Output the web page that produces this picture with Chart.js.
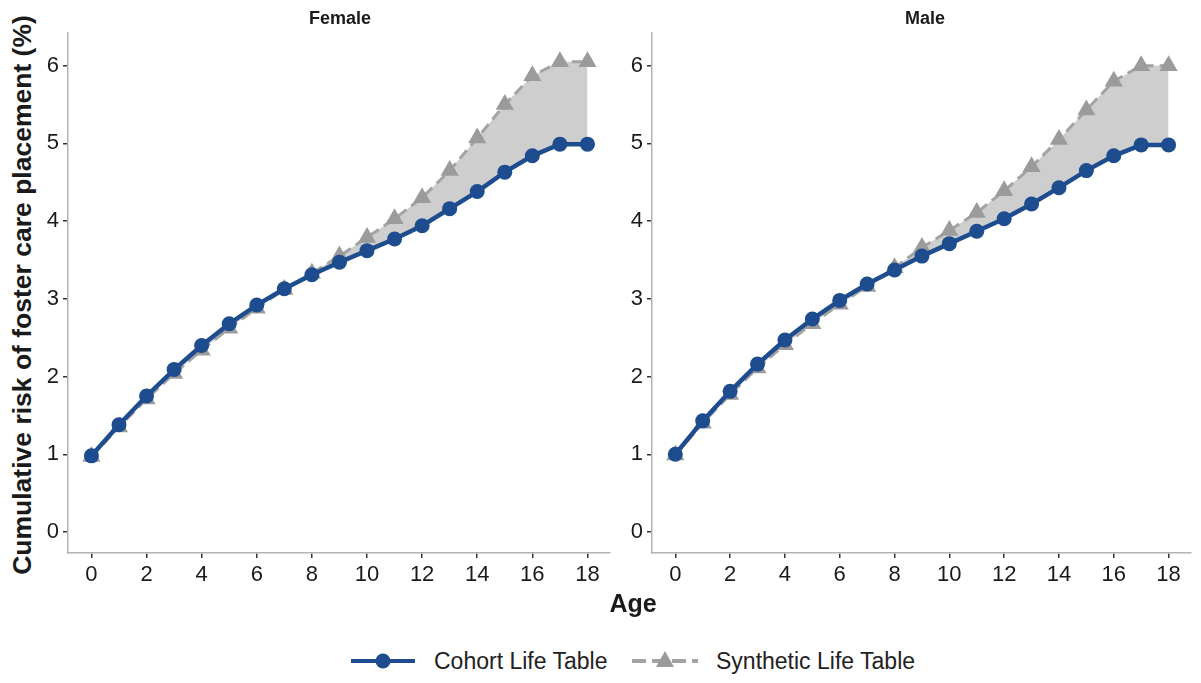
<!DOCTYPE html>
<html>
<head>
<meta charset="utf-8">
<script src="https://cdn.jsdelivr.net/npm/chart.js@4.4.1/dist/chart.umd.min.js"></script>
<style>
  body { margin: 0; background: #fff; width: 1201px; height: 683px; overflow: hidden; position: relative;
         font-family: "Liberation Sans", Arial, sans-serif; color: #1a1a1a; }
  canvas { position: absolute; top: 0; }
  #female { left: 40px; }
  #male { left: 624px; }
  .strip { position: absolute; top: 8px; font-weight: bold; font-size: 18px; transform: translateX(-50%); }
  .ytitle { position: absolute; left: 22px; top: 295px; transform: translate(-50%, -50%) rotate(-90deg);
            white-space: nowrap; font-weight: bold; font-size: 26.5px; }
  .xtitle { position: absolute; left: 633px; top: 603px; transform: translate(-50%, -50%);
            font-weight: bold; font-size: 25px; }
  .key { position: absolute; top: 649px; }
  .key-text { position: absolute; top: 648px; font-size: 23px; line-height: 26px; white-space: nowrap; color: #222; }
</style>
</head>
<body>
<canvas id="female" width="580" height="600"></canvas>
<canvas id="male" width="577" height="600"></canvas>

<div class="strip" style="left:340px">Female</div>
<div class="strip" style="left:925px">Male</div>
<div class="ytitle">Cumulative risk of foster care placement (%)</div>
<div class="xtitle">Age</div>

<svg class="key" style="left:350px" width="66" height="24">
  <line x1="1" y1="12" x2="65" y2="12" stroke="#1d4c8f" stroke-width="4"/>
  <circle cx="33" cy="12" r="7.5" fill="#1d4c8f"/>
</svg>
<div class="key-text" style="left:434px">Cohort Life Table</div>
<svg class="key" style="left:631px" width="68" height="24">
  <line x1="1" y1="12" x2="67" y2="12" stroke="#a3a3a3" stroke-width="4" stroke-dasharray="14 6"/>
  <polygon points="34,2 43,18 25,18" fill="#9b9b9b"/>
</svg>
<div class="key-text" style="left:716px">Synthetic Life Table</div>

<script>
const ages = [0, 1, 2, 3, 4, 5, 6, 7, 8, 9, 10, 11, 12, 13, 14, 15, 16, 17, 18];
const xTicks = [0, 2, 4, 6, 8, 10, 12, 14, 16, 18];
const yTicks = [0, 1, 2, 3, 4, 5, 6];

const femaleCohort    = [0.98, 1.38, 1.75, 2.09, 2.40, 2.68, 2.92, 3.13, 3.31, 3.47, 3.62, 3.77, 3.94, 4.16, 4.38, 4.63, 4.84, 4.99, 4.99];
const femaleSynthetic = [0.97, 1.35, 1.71, 2.04, 2.34, 2.62, 2.88, 3.12, 3.33, 3.55, 3.79, 4.03, 4.30, 4.65, 5.07, 5.50, 5.87, 6.05, 6.05];
const maleCohort      = [1.00, 1.43, 1.81, 2.16, 2.47, 2.74, 2.98, 3.19, 3.37, 3.55, 3.71, 3.87, 4.03, 4.22, 4.43, 4.65, 4.84, 4.98, 4.98];
const maleSynthetic   = [0.99, 1.40, 1.77, 2.11, 2.41, 2.68, 2.93, 3.16, 3.40, 3.66, 3.88, 4.11, 4.39, 4.70, 5.05, 5.43, 5.80, 6.00, 6.00];

const navy = '#1d4c8f';
const grey = '#9b9b9b';
const ribbon = 'rgba(165, 165, 165, 0.55)';
const family = '"Liberation Sans", Arial, sans-serif';

function points(values) {
    return ages.map((a, i) => ({ x: a, y: values[i] }));
}

function axisStyle() {
    return {
        grid: { drawOnChartArea: false, drawTicks: true, tickLength: 5, color: '#333', lineWidth: 1.5 },
        border: { color: '#b3b3b3', width: 1.5 },
        ticks: { font: { size: 22, family: family }, color: '#1a1a1a', padding: 4, maxRotation: 0 }
    };
}

function drawPanel(id, cohort, synthetic, rightPad) {
    const ctx = document.getElementById(id).getContext('2d');
    const x = axisStyle();
    const y = axisStyle();
    new Chart(ctx, {
        type: 'line',
        data: {
            datasets: [{
                label: 'Cohort Life Table',
                data: points(cohort),
                borderColor: navy,
                backgroundColor: navy,
                borderWidth: 4.5,
                pointStyle: 'circle',
                pointRadius: 7.5,
                pointBorderWidth: 0,
                fill: false,
                order: 0
            }, {
                label: 'Synthetic Life Table',
                data: points(synthetic),
                borderColor: '#a3a3a3',
                borderWidth: 3,
                borderDash: [11, 6],
                pointStyle: 'triangle',
                pointRadius: 10.5,
                pointBackgroundColor: grey,
                pointBorderColor: grey,
                pointBorderWidth: 0,
                fill: { target: 0, above: ribbon, below: ribbon },
                order: 1
            }]
        },
        options: {
            responsive: false,
            animation: false,
            layout: { padding: { top: 33, right: rightPad, bottom: 0, left: 0 } },
            elements: { line: { tension: 0 } },
            plugins: {
                legend: { display: false },
                tooltip: { enabled: false }
            },
            scales: {
                x: Object.assign(x, {
                    type: 'linear',
                    min: -0.85,
                    max: 18.8,
                    afterBuildTicks: s => { s.ticks = xTicks.map(v => ({ value: v })); },
                    afterFit: s => { s.height = 47; }
                }),
                y: Object.assign(y, {
                    min: -0.27,
                    max: 6.42,
                    afterBuildTicks: s => { s.ticks = yTicks.map(v => ({ value: v })); },
                    afterFit: s => { s.width = 28; }
                })
            }
        }
    });
}

drawPanel('female', femaleCohort, femaleSynthetic, 7);
drawPanel('male', maleCohort, maleSynthetic, 3);
</script>
</body>
</html>
